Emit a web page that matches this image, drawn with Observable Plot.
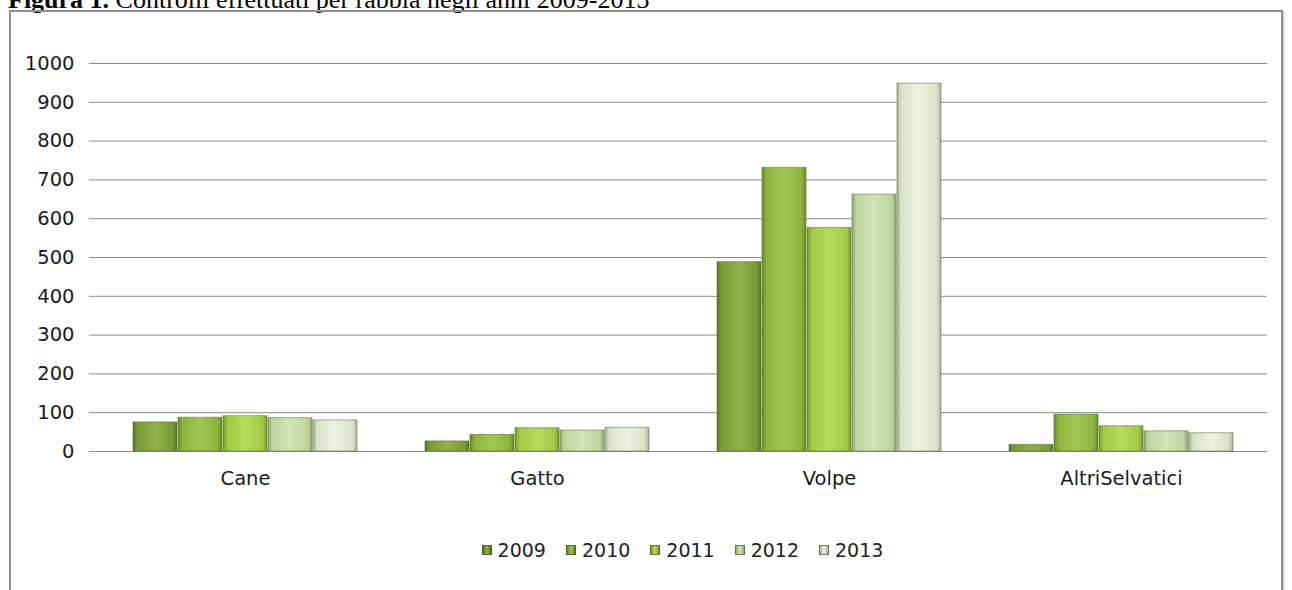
<!DOCTYPE html>
<html><head><meta charset="utf-8">
<script src="https://cdn.jsdelivr.net/npm/d3@7"></script>
<script src="https://cdn.jsdelivr.net/npm/@observablehq/plot@0.6"></script>
<style>
body{margin:0;background:#fff;width:1292px;height:590px;overflow:hidden;position:relative;font-family:"DejaVu Sans",sans-serif}
#title{position:absolute;left:8px;top:-13px;font-family:"Liberation Serif",serif;font-size:26px;white-space:nowrap;line-height:1;color:#000}
#frame{position:absolute;left:9px;top:10px;width:1270px;height:620px;border:2px solid #8f8f8f;box-shadow:1px 1px 2px rgba(0,0,0,.25)}
#chart{position:absolute;left:0;top:0}
#legend{position:absolute;top:539px;left:97px;width:1171px;display:flex;justify-content:center;align-items:center;gap:20px;font-size:19px;color:#222;font-family:"DejaVu Sans",sans-serif}
#legend .item{display:flex;align-items:center}
#legend .sw{width:10px;height:10px;margin-right:6px;box-sizing:border-box;border:1px solid rgba(60,70,40,.6)}
</style></head>
<body>
<div id="title"><b>Figura 1.</b> Controlli effettuati per rabbia negli anni 2009-2013</div>
<div id="frame"></div>
<div id="chart"></div>
<div id="legend"></div>
<script>
const categories = ["Cane", "Gatto", "Volpe", "AltriSelvatici"];
const years = ["2009", "2010", "2011", "2012", "2013"];
const v2009 = [75, 26, 488, 17];
const v2010 = [87, 43, 731, 95];
const v2011 = [91, 60, 576, 65];
const v2012 = [86, 54, 662, 52];
const v2013 = [80, 61, 948, 47];
const yTicks = [0, 100, 200, 300, 400, 500, 600, 700, 800, 900, 1000];
const baseColors = ["#7a9a3a", "#8cb23b", "#a2c845", "#bfd49e", "#dbe2c8"];
const darkColors = ["#56731f", "#668a22", "#789c26", "#91a879", "#a9b398"];
const lightColors = ["#90b04c", "#a2c655", "#b8dc5e", "#d3e4b8", "#eef2e3"];

const series = [v2009, v2010, v2011, v2012, v2013];
const data = [];
categories.forEach((c, ci) => years.forEach((y, yi) => data.push({cat: c, year: y, value: series[yi][ci]})));

const W = 1292, H = 500, ML = 97, MR = 24, MT = 63, MB = 49;
const facetW = (W - ML - MR) / categories.length;
const gridColor = "#8a8a8a";

const chart = Plot.plot({
  width: W, height: H,
  marginLeft: ML, marginRight: MR, marginTop: MT, marginBottom: MB,
  style: {background: "transparent", fontFamily: "DejaVu Sans, sans-serif"},
  fx: {domain: categories, padding: 0, label: null},
  x: {domain: years, paddingInner: 0.03, paddingOuter: 0.75, axis: null},
  y: {domain: [0, 1000], label: null},
  color: {domain: years, range: years.map(y => `url(#g${y})`)},
  marks: [
    Plot.gridY(yTicks, {stroke: gridColor, strokeOpacity: 1}),
    Plot.barY(data, {fx: "cat", x: "year", y: "value", fill: "year", stroke: "#5b6a3c", strokeOpacity: 0.55, strokeWidth: 1}),
    Plot.ruleX(["Cane"], {fx: d => d, dx: -facetW / 2, insetBottom: -7, stroke: gridColor}),
    Plot.ruleX(categories, {fx: d => d, y1: 0, y2: 0, dx: -facetW / 2, insetBottom: -7, stroke: gridColor}),
    Plot.ruleX(["AltriSelvatici"], {fx: d => d, y1: 0, y2: 0, dx: facetW / 2, insetBottom: -7, stroke: gridColor}),
    Plot.axisY(yTicks, {tickSize: 10, tickPadding: 15, fontSize: 19.5, tickFormat: d3.format("d"), stroke: gridColor, fill: "#1a1a1a", label: null}),
    Plot.axisFx({anchor: "bottom", tickSize: 0, tickPadding: 20, fontSize: 19.5, fill: "#1a1a1a", label: null})
  ]
});

// gradient definitions for bevelled bars
const svgNS = "http://www.w3.org/2000/svg";
const svg = chart.tagName.toLowerCase() === "svg" ? chart : chart.querySelector("svg");
const defs = document.createElementNS(svgNS, "defs");
years.forEach((y, i) => {
  const g = document.createElementNS(svgNS, "linearGradient");
  g.setAttribute("id", `g${y}`);
  g.setAttribute("x1", "0"); g.setAttribute("x2", "1"); g.setAttribute("y1", "0"); g.setAttribute("y2", "0");
  [[0, darkColors[i]], [0.1, baseColors[i]], [0.5, lightColors[i]], [0.9, baseColors[i]], [1, darkColors[i]]].forEach(([o, c]) => {
    const s = document.createElementNS(svgNS, "stop");
    s.setAttribute("offset", o); s.setAttribute("stop-color", c);
    g.appendChild(s);
  });
  defs.appendChild(g);
});
svg.insertBefore(defs, svg.firstChild);
document.getElementById("chart").appendChild(chart);

// legend
const legend = d3.select("#legend");
years.forEach((y, i) => {
  const it = legend.append("div").attr("class", "item");
  it.append("div").attr("class", "sw").style("background", `linear-gradient(90deg, ${darkColors[i]}, ${lightColors[i]} 50%, ${darkColors[i]})`);
  it.append("span").text(y);
});
</script>
</body></html>
